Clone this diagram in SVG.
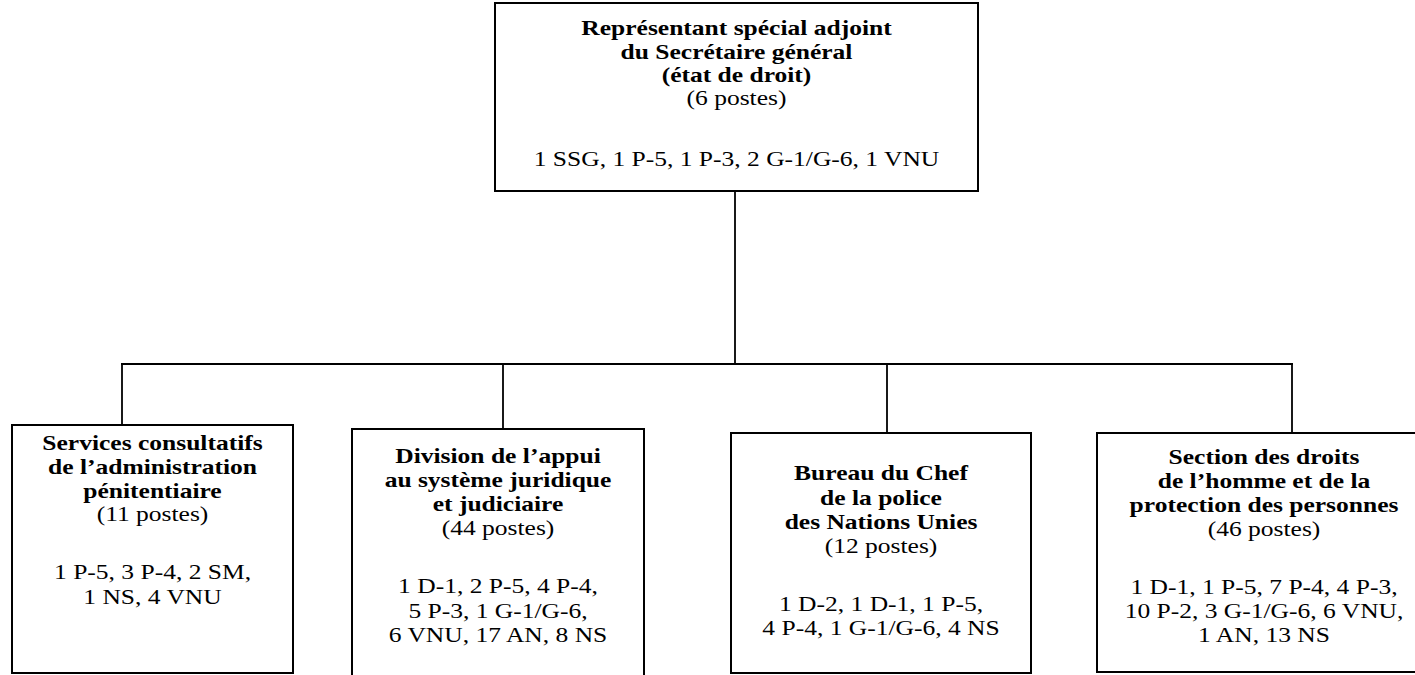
<svg xmlns="http://www.w3.org/2000/svg" width="1415" height="675" viewBox="0 0 1415 675">
  <style>
    .box { fill: #ffffff; stroke: #000000; stroke-width: 2; }
    .link { fill: none; stroke: #000000; stroke-width: 1.8; }
    text { font-family: "Liberation Serif", "Times New Roman", serif; font-size: 22px; fill: #000000; text-anchor: middle; }
    .b { font-weight: bold; }
  </style>
  <rect x="0" y="0" width="1415" height="675" fill="#ffffff"/>

  <!-- connectors -->
  <g id="connectors">
    <line class="link" x1="735" y1="191" x2="735" y2="364"/>
    <line class="link" x1="121" y1="364" x2="1293" y2="364"/>
    <line class="link" x1="122" y1="364" x2="122" y2="425"/>
    <line class="link" x1="503" y1="364" x2="503" y2="429"/>
    <line class="link" x1="887" y1="364" x2="887" y2="433"/>
    <line class="link" x1="1292" y1="364" x2="1292" y2="433"/>
  </g>

  <!-- head of the component -->
  <g id="node-rssg">
    <rect class="box" x="495" y="3" width="483" height="188"/>
    <g transform="translate(736.5 0) scale(1.16 1)">
      <text class="b" x="0" y="35">Représentant spécial adjoint</text>
      <text class="b" x="0" y="59">du Secrétaire général</text>
      <text class="b" x="0" y="82">(état de droit)</text>
      <text x="0" y="105">(6 postes)</text>
      <text x="0" y="166">1 SSG, 1 P-5, 1 P-3, 2 G-1/G-6, 1 VNU</text>
    </g>
  </g>

  <g id="node-penitentiaire">
    <rect class="box" x="12" y="425" width="281" height="248"/>
    <g transform="translate(152.5 0) scale(1.16 1)">
      <text class="b" x="0" y="450">Services consultatifs</text>
      <text class="b" x="0" y="474">de l’administration</text>
      <text class="b" x="0" y="498">pénitentiaire</text>
      <text x="0" y="521">(11 postes)</text>
      <text x="0" y="579">1 P-5, 3 P-4, 2 SM,</text>
      <text x="0" y="604">1 NS, 4 VNU</text>
    </g>
  </g>

  <g id="node-judiciaire">
    <rect class="box" x="352" y="429" width="292" height="260"/>
    <g transform="translate(498 0) scale(1.16 1)">
      <text class="b" x="0" y="463">Division de l’appui</text>
      <text class="b" x="0" y="487">au système juridique</text>
      <text class="b" x="0" y="511">et judiciaire</text>
      <text x="0" y="535">(44 postes)</text>
      <text x="0" y="593">1 D-1, 2 P-5, 4 P-4,</text>
      <text x="0" y="618">5 P-3, 1 G-1/G-6,</text>
      <text x="0" y="642">6 VNU, 17 AN, 8 NS</text>
    </g>
  </g>

  <g id="node-police">
    <rect class="box" x="731" y="433" width="300" height="240"/>
    <g transform="translate(881 0) scale(1.16 1)">
      <text class="b" x="0" y="480">Bureau du Chef</text>
      <text class="b" x="0" y="505">de la police</text>
      <text class="b" x="0" y="529">des Nations Unies</text>
      <text x="0" y="553">(12 postes)</text>
      <text x="0" y="611">1 D-2, 1 D-1, 1 P-5,</text>
      <text x="0" y="635">4 P-4, 1 G-1/G-6, 4 NS</text>
    </g>
  </g>

  <g id="node-droits-homme">
    <rect class="box" x="1097" y="433" width="334" height="239"/>
    <g transform="translate(1264 0) scale(1.16 1)">
      <text class="b" x="0" y="464">Section des droits</text>
      <text class="b" x="0" y="488">de l’homme et de la</text>
      <text class="b" x="0" y="512">protection des personnes</text>
      <text x="0" y="536">(46 postes)</text>
      <text x="0" y="594">1 D-1, 1 P-5, 7 P-4, 4 P-3,</text>
      <text x="0" y="618">10 P-2, 3 G-1/G-6, 6 VNU,</text>
      <text x="0" y="642">1 AN, 13 NS</text>
    </g>
  </g>
</svg>
